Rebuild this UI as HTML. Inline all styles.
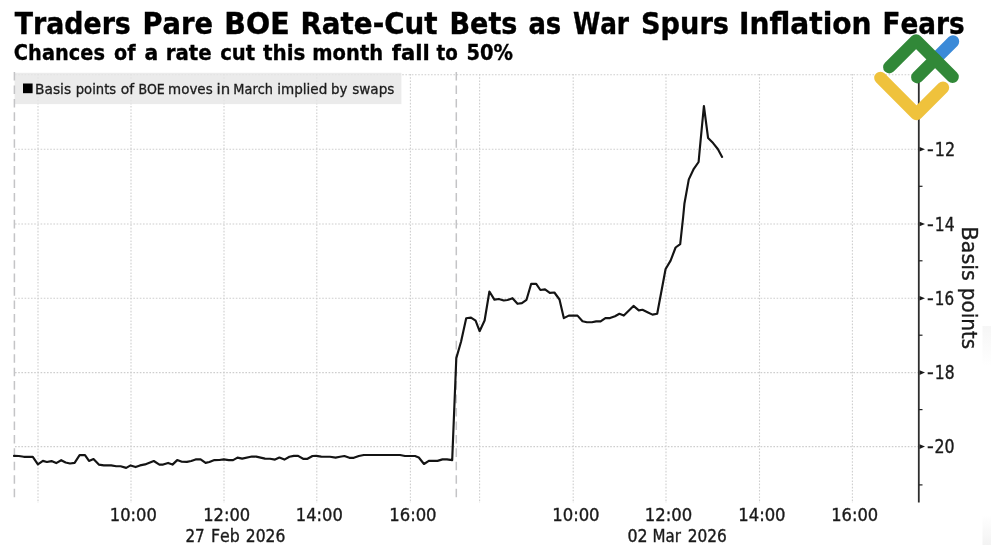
<!DOCTYPE html>
<html lang="en">
<head>
<meta charset="utf-8">
<title>Traders Pare BOE Rate-Cut Bets as War Spurs Inflation Fears</title>
<style>
html,body{margin:0;padding:0;background:#fff;}
body{width:1000px;height:545px;overflow:hidden;position:relative;font-family:"DejaVu Sans Condensed","DejaVu Sans","Liberation Sans",sans-serif;}
svg{position:absolute;left:0;top:0;display:block;}
text{font-family:"DejaVu Sans Condensed","DejaVu Sans","Liberation Sans",sans-serif;fill:#111;white-space:pre;font-kerning:none;}
.t1{font-weight:bold;fill:#000;stroke:#000;stroke-width:0.35;}
.t2{font-weight:bold;fill:#000;stroke:#000;stroke-width:0.3;}
.lg{fill:#1c1c1c;stroke:#1c1c1c;stroke-width:0.3;}
.ax{fill:#1a1a1a;stroke:#1a1a1a;stroke-width:0.35;}
.grid line{stroke:#cecece;stroke-width:1.1;stroke-dasharray:1.6 1.6;}
.sess line{stroke:#c4c4c6;stroke-width:1.5;stroke-dasharray:8.6 4.84;}
</style>
</head>
<body>
<svg width="1000" height="545" viewBox="0 0 1000 545" role="img" aria-label="Chart: Traders Pare BOE Rate-Cut Bets as War Spurs Inflation Fears">
<rect width="1000" height="545" fill="#fff"/>
<defs><linearGradient id="fade" x1="0" y1="0" x2="0" y2="1"><stop offset="0" stop-color="#f6f6f6"/><stop offset="1" stop-color="#f6f6f6" stop-opacity="0"/></linearGradient><linearGradient id="fade2" x1="0" y1="1" x2="0" y2="0"><stop offset="0" stop-color="#f3f3f3"/><stop offset="1" stop-color="#f3f3f3" stop-opacity="0"/></linearGradient></defs>
<rect x="982.5" y="326" width="8.5" height="40" fill="url(#fade)"/><rect x="982.5" y="515" width="8.5" height="30" fill="url(#fade2)"/>
<g class="grid"><line x1="15" y1="74.8" x2="918" y2="74.8"/><line x1="15" y1="149.2" x2="918" y2="149.2"/><line x1="15" y1="224.0" x2="918" y2="224.0"/><line x1="15" y1="298.2" x2="918" y2="298.2"/><line x1="15" y1="372.6" x2="918" y2="372.6"/><line x1="15" y1="446.6" x2="918" y2="446.6"/><line x1="38" y1="74" x2="38" y2="503"/><line x1="131" y1="74" x2="131" y2="503"/><line x1="224" y1="74" x2="224" y2="503"/><line x1="316.8" y1="74" x2="316.8" y2="503"/><line x1="410.4" y1="74" x2="410.4" y2="503"/><line x1="479.6" y1="74" x2="479.6" y2="503"/><line x1="573.2" y1="74" x2="573.2" y2="503"/><line x1="666" y1="74" x2="666" y2="503"/><line x1="759.5" y1="74" x2="759.5" y2="503"/><line x1="852.4" y1="74" x2="852.4" y2="503"/></g>
<rect x="14.6" y="72.8" width="386.8" height="31.3" fill="#e6e6e6" fill-opacity="0.8"/>
<g class="sess"><line x1="14.4" y1="72" x2="14.4" y2="497.4"/><line x1="456.3" y1="72" x2="456.3" y2="497.4"/></g>
<rect x="23" y="83.5" width="9.6" height="9.7" fill="#000"/>
<line x1="918.8" y1="74" x2="918.8" y2="502.4" stroke="#2e2e2e" stroke-width="1.8"/>
<path d="M919.5,146.89999999999998 L925,149.2 L919.5,151.5 Z" fill="#1a1a1a"/><path d="M919.5,221.7 L925,224.0 L919.5,226.3 Z" fill="#1a1a1a"/><path d="M919.5,295.9 L925,298.2 L919.5,300.5 Z" fill="#1a1a1a"/><path d="M919.5,370.3 L925,372.6 L919.5,374.90000000000003 Z" fill="#1a1a1a"/><path d="M919.5,444.3 L925,446.6 L919.5,448.90000000000003 Z" fill="#1a1a1a"/><line x1="919" y1="111.8" x2="922.5" y2="111.8" stroke="#222" stroke-width="1.2"/><line x1="919" y1="186.3" x2="922.5" y2="186.3" stroke="#222" stroke-width="1.2"/><line x1="919" y1="260.8" x2="922.5" y2="260.8" stroke="#222" stroke-width="1.2"/><line x1="919" y1="335.2" x2="922.5" y2="335.2" stroke="#222" stroke-width="1.2"/><line x1="919" y1="409.6" x2="922.5" y2="409.6" stroke="#222" stroke-width="1.2"/><line x1="919" y1="484.9" x2="922.5" y2="484.9" stroke="#222" stroke-width="1.2"/>
<text y="33.5" class="t1" font-size="30"><tspan x="14.75" textLength="116.04" lengthAdjust="spacingAndGlyphs">Traders</tspan> <tspan x="142.47" textLength="70.51" lengthAdjust="spacingAndGlyphs">Pare</tspan> <tspan x="224.37" textLength="65.29" lengthAdjust="spacingAndGlyphs">BOE</tspan> <tspan x="300.43" textLength="137.20" lengthAdjust="spacingAndGlyphs">Rate-Cut</tspan> <tspan x="449.50" textLength="67.86" lengthAdjust="spacingAndGlyphs">Bets</tspan> <tspan x="528.40" textLength="32.82" lengthAdjust="spacingAndGlyphs">as</tspan> <tspan x="572.91" textLength="56.14" lengthAdjust="spacingAndGlyphs">War</tspan> <tspan x="640.99" textLength="88.00" lengthAdjust="spacingAndGlyphs">Spurs</tspan> <tspan x="739.00" textLength="132.63" lengthAdjust="spacingAndGlyphs">Inflation</tspan> <tspan x="882.57" textLength="82.16" lengthAdjust="spacingAndGlyphs">Fears</tspan></text>
<text y="60.4" class="t2" font-size="22"><tspan x="13.87" textLength="91.12" lengthAdjust="spacingAndGlyphs">Chances</tspan> <tspan x="114.02" textLength="21.50" lengthAdjust="spacingAndGlyphs">of</tspan> <tspan x="144.53" textLength="13.72" lengthAdjust="spacingAndGlyphs">a</tspan> <tspan x="165.65" textLength="45.96" lengthAdjust="spacingAndGlyphs">rate</tspan> <tspan x="220.16" textLength="34.99" lengthAdjust="spacingAndGlyphs">cut</tspan> <tspan x="262.95" textLength="42.43" lengthAdjust="spacingAndGlyphs">this</tspan> <tspan x="312.28" textLength="70.84" lengthAdjust="spacingAndGlyphs">month</tspan> <tspan x="391.76" textLength="38.03" lengthAdjust="spacingAndGlyphs">fall</tspan> <tspan x="436.57" textLength="21.29" lengthAdjust="spacingAndGlyphs">to</tspan> <tspan x="466.42" textLength="46.59" lengthAdjust="spacingAndGlyphs">50%</tspan></text>
<text y="94.1" class="lg" font-size="14.3"><tspan x="35.06" textLength="36.07" lengthAdjust="spacingAndGlyphs">Basis</tspan> <tspan x="75.72" textLength="40.46" lengthAdjust="spacingAndGlyphs">points</tspan> <tspan x="120.79" textLength="13.44" lengthAdjust="spacingAndGlyphs">of</tspan> <tspan x="138.38" textLength="26.43" lengthAdjust="spacingAndGlyphs">BOE</tspan> <tspan x="168.09" textLength="44.58" lengthAdjust="spacingAndGlyphs">moves</tspan> <tspan x="216.55" textLength="13.59" lengthAdjust="spacingAndGlyphs">in</tspan> <tspan x="233.34" textLength="39.66" lengthAdjust="spacingAndGlyphs">March</tspan> <tspan x="277.28" textLength="50.05" lengthAdjust="spacingAndGlyphs">implied</tspan> <tspan x="331.10" textLength="16.46" lengthAdjust="spacingAndGlyphs">by</tspan> <tspan x="352.21" textLength="42.17" lengthAdjust="spacingAndGlyphs">swaps</tspan></text>
<text y="542" class="ax" font-size="18"><tspan x="185.43" textLength="19.24" lengthAdjust="spacingAndGlyphs">27</tspan> <tspan x="210.94" textLength="28.87" lengthAdjust="spacingAndGlyphs">Feb</tspan> <tspan x="245.80" textLength="39.51" lengthAdjust="spacingAndGlyphs">2026</tspan></text>
<text y="542" class="ax" font-size="18"><tspan x="627.42" textLength="20.15" lengthAdjust="spacingAndGlyphs">02</tspan> <tspan x="652.60" textLength="28.45" lengthAdjust="spacingAndGlyphs">Mar</tspan> <tspan x="687.81" textLength="39.09" lengthAdjust="spacingAndGlyphs">2026</tspan></text>
<text y="521.4" class="ax" font-size="18"><tspan x="109.84" textLength="46.94" lengthAdjust="spacingAndGlyphs">10:00</tspan></text>
<text y="521.4" class="ax" font-size="18"><tspan x="203.24" textLength="46.94" lengthAdjust="spacingAndGlyphs">12:00</tspan></text>
<text y="521.4" class="ax" font-size="18"><tspan x="295.84" textLength="46.94" lengthAdjust="spacingAndGlyphs">14:00</tspan></text>
<text y="521.4" class="ax" font-size="18"><tspan x="389.22" textLength="47.37" lengthAdjust="spacingAndGlyphs">16:00</tspan></text>
<text y="521.4" class="ax" font-size="18"><tspan x="552.22" textLength="47.37" lengthAdjust="spacingAndGlyphs">10:00</tspan></text>
<text y="521.4" class="ax" font-size="18"><tspan x="644.82" textLength="47.37" lengthAdjust="spacingAndGlyphs">12:00</tspan></text>
<text y="521.4" class="ax" font-size="18"><tspan x="738.22" textLength="47.37" lengthAdjust="spacingAndGlyphs">14:00</tspan></text>
<text y="521.4" class="ax" font-size="18"><tspan x="831.24" textLength="46.94" lengthAdjust="spacingAndGlyphs">16:00</tspan></text>
<text y="155.7" class="ax" font-size="18.8"><tspan x="926.97" textLength="6.79" lengthAdjust="spacingAndGlyphs">-</tspan><tspan x="934.75" textLength="20.31" lengthAdjust="spacingAndGlyphs">12</tspan></text>
<text y="230.5" class="ax" font-size="18.8"><tspan x="926.97" textLength="6.79" lengthAdjust="spacingAndGlyphs">-</tspan><tspan x="934.79" textLength="19.72" lengthAdjust="spacingAndGlyphs">14</tspan></text>
<text y="304.7" class="ax" font-size="18.8"><tspan x="926.97" textLength="6.79" lengthAdjust="spacingAndGlyphs">-</tspan><tspan x="934.83" textLength="19.26" lengthAdjust="spacingAndGlyphs">16</tspan></text>
<text y="379.1" class="ax" font-size="18.8"><tspan x="926.97" textLength="6.79" lengthAdjust="spacingAndGlyphs">-</tspan><tspan x="934.79" textLength="19.76" lengthAdjust="spacingAndGlyphs">18</tspan></text>
<text y="453.1" class="ax" font-size="18.8"><tspan x="926.97" textLength="6.79" lengthAdjust="spacingAndGlyphs">-</tspan><tspan x="934.43" textLength="20.14" lengthAdjust="spacingAndGlyphs">20</tspan></text>
<text y="0" transform="translate(961.8,0) rotate(90)" class="ax" font-size="22"><tspan x="226.60" textLength="54.34" lengthAdjust="spacingAndGlyphs">Basis</tspan> <tspan x="287.83" textLength="61.32" lengthAdjust="spacingAndGlyphs">points</tspan></text>
<path d="M14.0,455.9 L18.8,456.0 L23.8,456.8 L32.8,456.8 L37.9,464.4 L42.9,460.9 L46.9,462.0 L51.5,461.1 L56.2,463.1 L61.2,460.2 L65.6,462.5 L70.0,463.5 L74.6,462.9 L79.6,455.1 L85.0,455.1 L89.0,460.9 L93.5,459.1 L98.8,464.6 L103.8,465.4 L111.2,465.4 L116.2,466.2 L120.6,466.2 L126.2,467.9 L130.6,465.4 L135.6,467.1 L140.0,465.4 L145.0,464.4 L153.8,461.0 L159.4,464.6 L163.1,464.6 L168.1,462.9 L172.5,464.6 L177.2,460.1 L181.9,461.8 L186.9,461.9 L191.2,461.0 L195.6,459.4 L200.6,459.4 L205.6,462.9 L209.4,462.0 L214.4,460.1 L219.4,460.0 L223.8,459.4 L228.8,460.1 L233.1,460.1 L237.5,457.6 L242.2,458.6 L251.9,456.5 L256.2,456.6 L265.0,458.6 L270.0,458.8 L275.0,459.6 L279.4,457.6 L284.4,459.6 L289.4,456.8 L293.8,455.9 L298.1,455.9 L303.1,458.8 L307.5,458.8 L312.5,456.0 L316.2,455.9 L321.2,456.6 L330.0,456.8 L335.6,457.6 L340.0,456.8 L344.4,456.0 L349.4,457.8 L353.8,457.8 L358.8,456.0 L363.8,455.0 L400.0,455.0 L405.0,456.0 L415.0,456.0 L418.8,457.5 L424.0,464.0 L428.8,460.9 L437.5,460.9 L442.5,459.4 L446.9,459.4 L452.2,460.1 L456.3,358.1 L461.1,341.5 L466.2,318.2 L471.0,317.6 L475.6,320.7 L479.6,331.2 L484.6,320.5 L489.4,291.5 L494.4,299.6 L498.8,299.0 L503.8,300.5 L507.5,300.0 L512.5,298.2 L517.5,303.8 L521.9,303.1 L526.5,299.8 L531.2,283.8 L536.2,283.8 L540.4,290.0 L545.0,289.4 L549.8,292.9 L554.4,292.5 L559.5,299.5 L563.8,318.1 L568.8,315.6 L577.5,315.6 L582.5,321.2 L586.9,322.2 L591.9,322.2 L596.2,321.4 L600.6,321.4 L605.4,318.1 L610.0,318.1 L615.0,316.2 L619.4,313.8 L623.8,315.6 L633.5,305.9 L638.8,310.4 L642.5,309.8 L647.5,312.2 L652.5,314.6 L657.2,313.8 L665.6,269.0 L670.6,260.6 L675.6,247.5 L680.2,244.1 L683.1,217.5 L684.4,203.8 L688.8,179.4 L693.8,168.8 L698.6,162.0 L699.8,148.8 L703.9,106.0 L708.1,138.1 L713.1,143.1 L717.8,149.0 L722.1,156.9" fill="none" stroke="#141414" stroke-width="2.15" stroke-linejoin="round" stroke-linecap="round"/>
<g fill="none" stroke-linecap="round" stroke-linejoin="round" stroke-width="12.4"><path d="M880.4,77.9 L916.5,114.1 L943.0,87.6" stroke="#efc23c"/><path d="M935.1,59.4 L953.0,41.5" stroke="#3b8ad8"/><path d="M889.3,67.2 L916.1,40.4 L952.6,76.9" stroke="#318838"/><path d="M917.3,77.2 L935.1,59.4" stroke="#318838"/></g>
</svg>
</body>
</html>
